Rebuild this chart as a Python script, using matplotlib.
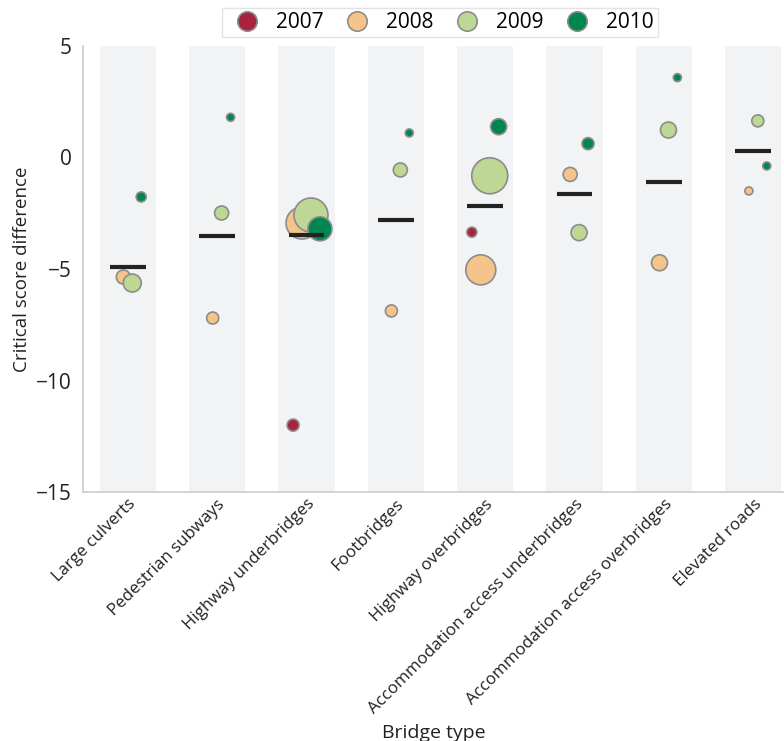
import matplotlib.pyplot as plt
import numpy as np
from matplotlib.lines import Line2D

plt.rcParams['font.family'] = ['Open Sans', 'DejaVu Sans']

# categorias (tipo de ponte)
tipos = ['Large culverts', 'Pedestrian subways', 'Highway underbridges', 'Footbridges',
         'Highway overbridges', 'Accommodation access underbridges',
         'Accommodation access overbridges', 'Elevated roads']
anos = ['2007', '2008', '2009', '2010']
cores = ['#a8233f', '#f5c48a', '#bdd794', '#00874f']

# mediana por tipo
mediana = [-4.9, -3.54, -3.48, -2.8, -2.19, -1.64, -1.08, 0.31]

# diferença do escore crítico por ano (nan = sem dado)
v2007 = [np.nan, np.nan, -12.0, np.nan, -3.35, np.nan, np.nan, np.nan]
v2008 = [-5.36, -7.2, -2.94, -6.88, -5.04, -0.76, -4.72, -1.5]
v2009 = [-5.63, -2.49, -2.58, -0.56, -0.82, -3.37, 1.23, 1.64]
v2010 = [-1.77, 1.8, -3.2, 1.1, 1.38, 0.62, 3.58, -0.38]

# raio aproximado das bolhas (px)
r2007 = [0, 0, 6, 0, 5, 0, 0, 0]
r2008 = [7, 6, 16, 6, 15, 7, 8, 4]
r2009 = [9, 7, 17, 7, 18, 8, 8, 6]
r2010 = [5, 4, 12, 4, 8, 6, 4, 4]

valores = [v2007, v2008, v2009, v2010]
raios = [r2007, r2008, r2009, r2010]
desloc = [-0.15, -0.05, 0.05, 0.15]

fig = plt.figure(figsize=(7.84, 7.41), dpi=100)
ax = fig.add_axes([0.106, 0.336, 0.894, 0.602])

x = np.arange(len(tipos))
for xi in x:
    ax.axvspan(xi - 0.315, xi + 0.315, color='#f2f3f5', zorder=0, lw=0)

for k in range(len(anos)):
    s = (2 * np.array(raios[k]) * 0.72) ** 2
    ax.scatter(x + desloc[k], valores[k], s=s, color=cores[k], edgecolor='#8c8c8c',
               linewidth=1.2, zorder=3)

ax.hlines(mediana, x - 0.2, x + 0.2, color='#222222', lw=3, zorder=4)

ax.set_xlim(-0.5, 7.343)
ax.set_ylim(-15, 5)
ax.set_yticks([-15, -10, -5, 0, 5])
ax.set_yticklabels(['\u221215', '\u221210', '\u22125', '0', '5'])
ax.set_xticks(x)
ax.set_xticklabels(tipos, rotation=45, ha='right', rotation_mode='anchor')
ax.tick_params(axis='y', length=0, labelsize=15, pad=8, colors='#222222')
ax.tick_params(axis='x', length=0, labelsize=12.2, pad=3, colors='#222222')
for lado in ['top', 'right']:
    ax.spines[lado].set_visible(False)
for lado in ['left', 'bottom']:
    ax.spines[lado].set_color('#cccccc')
    ax.spines[lado].set_linewidth(1.2)

ax.set_ylabel('Critical score difference', fontsize=13.5, color='#222222')
ax.set_xlabel('Bridge type', fontsize=14, color='#222222')
ax.xaxis.set_label_coords(0.5, -0.52)

handles = [Line2D([], [], marker='o', ls='', markersize=14, markerfacecolor=c,
                  markeredgecolor='#8c8c8c', markeredgewidth=1.2) for c in cores]
leg = ax.legend(handles, anos, ncol=4, loc='lower center', bbox_to_anchor=(0.509, 1.006),
                frameon=True, fancybox=False, fontsize=15, handletextpad=0.4,
                columnspacing=0.6, borderpad=0.2, borderaxespad=0.3, edgecolor='#dddddd')
leg.get_frame().set_linewidth(1.0)

fig.savefig('out.png', dpi=100)
